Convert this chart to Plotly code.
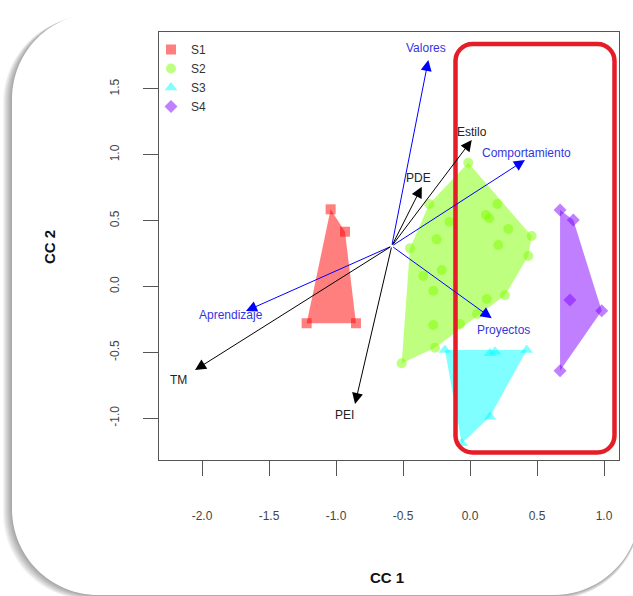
import plotly.graph_objects as go

# ---------------- data ----------------
groups = ["S1", "S2", "S3", "S4"]

s1_x = [-1.040, -0.933, -1.219, -0.851]
s1_y = [0.586, 0.416, -0.279, -0.279]

s2_x = [-0.013, -0.304, 0.204, 0.144, 0.119, 0.286, 0.460, -0.154, -0.249, -0.448, 0.211,
        0.435, -0.211, -0.349, -0.274, 0.125, 0.261, -0.274, -0.075, -0.261, -0.510, 0.052]
s2_y = [0.940, 0.626, 0.626, 0.518, 0.543, 0.437, 0.383, 0.492, 0.358, 0.290, 0.315,
        0.232, 0.125, 0.080, -0.032, -0.095, -0.067, -0.292, -0.285, -0.465, -0.583, -0.209]

s3_x = [-0.187, 0.149, 0.187, 0.423, 0.149, -0.062]
s3_y = [-0.482, -0.507, -0.495, -0.482, -0.989, -1.191]

s4_x = [0.672, 0.771, 0.746, 0.983, 0.672]
s4_y = [0.581, 0.505, -0.103, -0.184, -0.639]

arrow_origin = (-0.584, 0.307)
var_names = ["Valores", "Estilo", "Comportamiento", "PDE", "Proyectos", "Aprendizaje", "TM", "PEI"]
var_x = [-0.311, 0.013, 0.410, -0.360, 0.162, -1.672, -2.052, -0.858]
var_y = [1.720, 1.112, 0.960, 0.758, -0.241, -0.186, -0.634, -0.892]
label_x = [-0.328, 0.013, 0.423, -0.381, 0.249, -1.786, -2.177, -0.933]
label_y = [1.810, 1.175, 1.011, 0.824, -0.330, -0.216, -0.710, -0.976]
var_kind = ["blue", "black", "blue", "black", "blue", "blue", "black", "black"]

x_ticks = [-2.0, -1.5, -1.0, -0.5, 0.0, 0.5, 1.0]
y_ticks = [-1.0, -0.5, 0.0, 0.5, 1.0, 1.5]
x_tick_text = ["-2.0", "-1.5", "-1.0", "-0.5", "0.0", "0.5", "1.0"]
y_tick_text = ["-1.0", "-0.5", "0.0", "0.5", "1.0", "1.5"]

# ---------------- styles ----------------
W, H = 633, 596
L, R, T, B = 159, 14, 32, 136
PW, PH = W - L - R, H - T - B

rgb = {"S1": (255, 0, 0), "S2": (128, 255, 0), "S3": (0, 255, 255), "S4": (128, 0, 255)}
symbols = {"S1": "square", "S2": "circle", "S3": "triangle-up", "S4": "diamond"}
msize = {"S1": 10, "S2": 10, "S3": 11, "S4": 10}
arrow_col = {"blue": "#0000ff", "black": "#000000"}
text_col = {"blue": "#3535e0", "black": "#222222"}
FONT = "Arial, Liberation Sans, sans-serif"


def hull(xs, ys):
    pts = sorted(set(zip(xs, ys)))
    if len(pts) < 3:
        return pts

    def cross(o, a, b):
        return (a[0] - o[0]) * (b[1] - o[1]) - (a[1] - o[1]) * (b[0] - o[0])

    lower, upper = [], []
    for p in pts:
        while len(lower) >= 2 and cross(lower[-2], lower[-1], p) <= 0:
            lower.pop()
        lower.append(p)
    for p in reversed(pts):
        while len(upper) >= 2 and cross(upper[-2], upper[-1], p) <= 0:
            upper.pop()
        upper.append(p)
    return lower[:-1] + upper[:-1]


def pxp(xp):
    return (xp - L) / PW


def pyp(yp):
    return (H - B - yp) / PH


def rrect_path(x0, y0, x1, y1, r):
    k = 0.5523 * r
    segs = [
        ("M", [(x0 + r, y0)]),
        ("L", [(x1 - r, y0)]),
        ("C", [(x1 - r + k, y0), (x1, y0 + r - k), (x1, y0 + r)]),
        ("L", [(x1, y1 - r)]),
        ("C", [(x1, y1 - r + k), (x1 - r + k, y1), (x1 - r, y1)]),
        ("L", [(x0 + r, y1)]),
        ("C", [(x0 + r - k, y1), (x0, y1 - r + k), (x0, y1 - r)]),
        ("L", [(x0, y0 + r)]),
        ("C", [(x0, y0 + r - k), (x0 + r - k, y0), (x0 + r, y0)]),
    ]
    s = ""
    for cmd, pts in segs:
        s += cmd + " ".join(f"{pxp(a):.5f},{pyp(b):.5f}" for a, b in pts)
    return s + "Z"


fig = go.Figure()

data = {"S1": (s1_x, s1_y), "S2": (s2_x, s2_y), "S3": (s3_x, s3_y), "S4": (s4_x, s4_y)}
for g in groups:
    xs, ys = data[g]
    r_, g_, b_ = rgb[g]
    col = f"rgba({r_},{g_},{b_},0.5)"
    hp = hull(xs, ys)
    hx = [p[0] for p in hp] + [hp[0][0]]
    hy = [p[1] for p in hp] + [hp[0][1]]
    fig.add_trace(go.Scatter(x=hx, y=hy, mode="lines", fill="toself", fillcolor=col,
                             line=dict(width=0, color=col), hoverinfo="skip",
                             showlegend=False, legendgroup=g))
    fig.add_trace(go.Scatter(x=xs, y=ys, mode="markers", name=g, legendgroup=g,
                             marker=dict(symbol=symbols[g], size=msize[g], color=col,
                                         line=dict(width=0))))

annotations = []
for name, vx, vy, lx, ly, kind in zip(var_names, var_x, var_y, label_x, label_y, var_kind):
    annotations.append(dict(x=vx, y=vy, ax=arrow_origin[0], ay=arrow_origin[1],
                            xref="x", yref="y", axref="x", ayref="y", text="",
                            showarrow=True, arrowhead=2, arrowsize=2.2, arrowwidth=1,
                            arrowcolor=arrow_col[kind], standoff=0, startstandoff=0))
    annotations.append(dict(x=lx, y=ly, xref="x", yref="y", text=name, showarrow=False,
                            font=dict(family=FONT, size=12, color=text_col[kind]),
                            xanchor="center", yanchor="middle"))

# axis titles
annotations.append(dict(x=pxp(387), y=pyp(577), xref="paper", yref="paper", text="<b>CC 1</b>",
                        showarrow=False, font=dict(family=FONT, size=15, color="#111"),
                        xanchor="center", yanchor="middle"))
annotations.append(dict(x=pxp(50), y=pyp(247), xref="paper", yref="paper", text="<b>CC 2</b>",
                        showarrow=False, textangle=-90, font=dict(family=FONT, size=15, color="#111"),
                        xanchor="center", yanchor="middle"))

shapes = []
card = (12, 13, 640, 595, 86)
for i in range(1, 10):
    shapes.append(dict(type="path", xref="paper", yref="paper", layer="below",
                       path=rrect_path(card[0] - i, card[1] + i * 0.4, card[2], card[3] + i * 0.5, card[4]),
                       fillcolor="rgba(0,0,0,0.045)", line=dict(width=0)))
shapes.append(dict(type="path", xref="paper", yref="paper", layer="below",
                   path=rrect_path(*card), fillcolor="#ffffff", line=dict(width=0)))
# red highlight box
shapes.append(dict(type="path", xref="paper", yref="paper", layer="above",
                   path=rrect_path(455.5, 44, 614.5, 452.5, 17), fillcolor="rgba(0,0,0,0)",
                   line=dict(color="#e41d28", width=4.5)))

fig.update_layout(
    width=W, height=H,
    margin=dict(l=L, r=R, t=T, b=B, pad=0),
    paper_bgcolor="#ffffff", plot_bgcolor="rgba(0,0,0,0)",
    showlegend=True,
    legend=dict(x=pxp(151), y=pyp(35), xanchor="left", yanchor="top",
                bgcolor="rgba(0,0,0,0)", borderwidth=0, tracegroupgap=0,
                font=dict(family=FONT, size=12, color="#333")),
    annotations=annotations, shapes=shapes,
    xaxis=dict(range=[(159 - 470) / 134, (619 - 470) / 134], tickvals=x_ticks, ticktext=x_tick_text,
               showgrid=False, zeroline=False, showline=True, linecolor="#555", linewidth=1,
               mirror=True, ticks="outside", ticklen=15, tickcolor="#555",
               ticklabelstandoff=30,
               tickfont=dict(family=FONT, size=12, color="#444")),
    yaxis=dict(range=[(286.5 - 460) / 131.7, (286.5 - 32) / 131.7], tickvals=y_ticks, ticktext=y_tick_text,
               showgrid=False, zeroline=False, showline=True, linecolor="#555", linewidth=1,
               mirror=True, ticks="outside", ticklen=15, tickcolor="#555", tickangle=-90,
               ticklabelstandoff=19,
               tickfont=dict(family=FONT, size=12, color="#444")),
)

fig.write_html("out.html", config={"displayModeBar": False},
               post_script="document.body.style.margin='0px';document.body.style.overflow='hidden';")
